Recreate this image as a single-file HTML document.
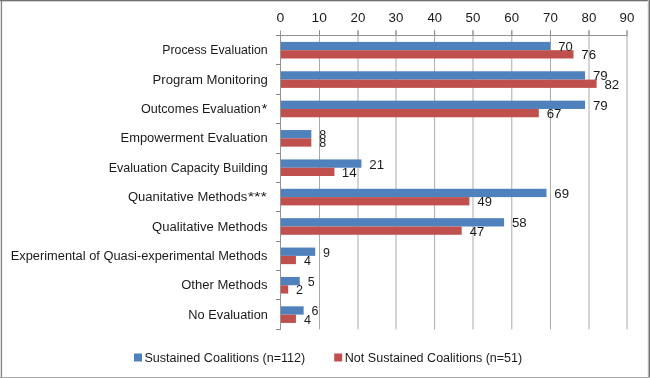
<!DOCTYPE html><html><head><meta charset="utf-8"><style>html,body{margin:0;padding:0;background:#fff;}svg{display:block;will-change:transform;}text{font-family:"Liberation Sans",sans-serif;fill:#1a1a1a;font-size:12.5px;}</style></head><body>
<svg width="650" height="378" viewBox="0 0 650 378">
<rect x="0" y="0" width="650" height="378" fill="#fff"/>
<g shape-rendering="crispEdges">
<rect x="0" y="0" width="1" height="378" fill="#e0e0e0"/>
<rect x="2" y="1" width="1" height="376" fill="#f2f2f2"/>
<rect x="0" y="1" width="650" height="1" fill="#d0d0d0"/>
<rect x="1" y="0" width="1" height="378" fill="#848484"/>
<rect x="0" y="0" width="650" height="1" fill="#727272"/>
<rect x="647" y="1" width="1" height="376" fill="#f0f0f0"/>
<rect x="648" y="0" width="1" height="378" fill="#b5b5b5"/>
<rect x="649" y="0" width="1" height="378" fill="#727272"/>
<rect x="0" y="377" width="650" height="1" fill="#a8a8a8"/>
</g>
<line x1="319.5" y1="30.3" x2="319.5" y2="329.5" stroke="#aaaaaa" stroke-width="1"/>
<line x1="319.5" y1="30.3" x2="319.5" y2="35" stroke="#888888" stroke-width="1"/>
<line x1="358.0" y1="30.3" x2="358.0" y2="329.5" stroke="#aaaaaa" stroke-width="1"/>
<line x1="358.0" y1="30.3" x2="358.0" y2="35" stroke="#888888" stroke-width="1"/>
<line x1="396.0" y1="30.3" x2="396.0" y2="329.5" stroke="#aaaaaa" stroke-width="1"/>
<line x1="396.0" y1="30.3" x2="396.0" y2="35" stroke="#888888" stroke-width="1"/>
<line x1="434.6" y1="30.3" x2="434.6" y2="329.5" stroke="#aaaaaa" stroke-width="1"/>
<line x1="434.6" y1="30.3" x2="434.6" y2="35" stroke="#888888" stroke-width="1"/>
<line x1="473.0" y1="30.3" x2="473.0" y2="329.5" stroke="#aaaaaa" stroke-width="1"/>
<line x1="473.0" y1="30.3" x2="473.0" y2="35" stroke="#888888" stroke-width="1"/>
<line x1="511.8" y1="30.3" x2="511.8" y2="329.5" stroke="#aaaaaa" stroke-width="1"/>
<line x1="511.8" y1="30.3" x2="511.8" y2="35" stroke="#888888" stroke-width="1"/>
<line x1="550.5" y1="30.3" x2="550.5" y2="329.5" stroke="#aaaaaa" stroke-width="1"/>
<line x1="550.5" y1="30.3" x2="550.5" y2="35" stroke="#888888" stroke-width="1"/>
<line x1="589.0" y1="30.3" x2="589.0" y2="329.5" stroke="#aaaaaa" stroke-width="1"/>
<line x1="589.0" y1="30.3" x2="589.0" y2="35" stroke="#888888" stroke-width="1"/>
<line x1="627.0" y1="30.3" x2="627.0" y2="329.5" stroke="#aaaaaa" stroke-width="1"/>
<line x1="627.0" y1="30.3" x2="627.0" y2="35" stroke="#888888" stroke-width="1"/>
<rect x="280.5" y="41.90" width="269.85" height="8.30" fill="#4F81BD"/>
<rect x="280.5" y="50.20" width="292.98" height="8.30" fill="#C0504D"/>
<rect x="280.5" y="71.28" width="304.55" height="8.30" fill="#4F81BD"/>
<rect x="280.5" y="79.58" width="316.11" height="8.30" fill="#C0504D"/>
<rect x="280.5" y="100.66" width="304.55" height="8.30" fill="#4F81BD"/>
<rect x="280.5" y="108.96" width="258.29" height="8.30" fill="#C0504D"/>
<rect x="280.5" y="130.04" width="30.84" height="8.30" fill="#4F81BD"/>
<rect x="280.5" y="138.34" width="30.84" height="8.30" fill="#C0504D"/>
<rect x="280.5" y="159.42" width="80.95" height="8.30" fill="#4F81BD"/>
<rect x="280.5" y="167.72" width="53.97" height="8.30" fill="#C0504D"/>
<rect x="280.5" y="188.80" width="266.00" height="8.30" fill="#4F81BD"/>
<rect x="280.5" y="197.10" width="188.90" height="8.30" fill="#C0504D"/>
<rect x="280.5" y="218.18" width="223.59" height="8.30" fill="#4F81BD"/>
<rect x="280.5" y="226.48" width="181.19" height="8.30" fill="#C0504D"/>
<rect x="280.5" y="247.56" width="34.70" height="8.30" fill="#4F81BD"/>
<rect x="280.5" y="255.86" width="15.42" height="8.30" fill="#C0504D"/>
<rect x="280.5" y="276.94" width="19.27" height="8.30" fill="#4F81BD"/>
<rect x="280.5" y="285.24" width="7.71" height="8.30" fill="#C0504D"/>
<rect x="280.5" y="306.32" width="23.13" height="8.30" fill="#4F81BD"/>
<rect x="280.5" y="314.62" width="15.42" height="8.30" fill="#C0504D"/>
<line x1="276" y1="35.5" x2="627.5" y2="35.5" stroke="#939393" stroke-width="1"/>
<line x1="280.5" y1="30.5" x2="280.5" y2="330" stroke="#939393" stroke-width="1"/>
<line x1="276" y1="35.5" x2="280.5" y2="35.5" stroke="#868686" stroke-width="1"/>
<line x1="276" y1="64.5" x2="280.5" y2="64.5" stroke="#868686" stroke-width="1"/>
<line x1="276" y1="94.5" x2="280.5" y2="94.5" stroke="#868686" stroke-width="1"/>
<line x1="276" y1="123.5" x2="280.5" y2="123.5" stroke="#868686" stroke-width="1"/>
<line x1="276" y1="153.5" x2="280.5" y2="153.5" stroke="#868686" stroke-width="1"/>
<line x1="276" y1="182.5" x2="280.5" y2="182.5" stroke="#868686" stroke-width="1"/>
<line x1="276" y1="211.5" x2="280.5" y2="211.5" stroke="#868686" stroke-width="1"/>
<line x1="276" y1="241.5" x2="280.5" y2="241.5" stroke="#868686" stroke-width="1"/>
<line x1="276" y1="270.5" x2="280.5" y2="270.5" stroke="#868686" stroke-width="1"/>
<line x1="276" y1="299.5" x2="280.5" y2="299.5" stroke="#868686" stroke-width="1"/>
<line x1="276" y1="329.5" x2="280.5" y2="329.5" stroke="#868686" stroke-width="1"/>
<text x="276.59" y="21.60" textLength="7.76" lengthAdjust="spacingAndGlyphs">0</text>
<text x="311.50" y="21.60" textLength="15.35" lengthAdjust="spacingAndGlyphs">10</text>
<text x="350.57" y="21.60" textLength="14.76" lengthAdjust="spacingAndGlyphs">20</text>
<text x="388.57" y="21.60" textLength="14.76" lengthAdjust="spacingAndGlyphs">30</text>
<text x="427.44" y="21.60" textLength="14.48" lengthAdjust="spacingAndGlyphs">40</text>
<text x="465.57" y="21.60" textLength="14.76" lengthAdjust="spacingAndGlyphs">50</text>
<text x="504.37" y="21.60" textLength="14.76" lengthAdjust="spacingAndGlyphs">60</text>
<text x="543.07" y="21.60" textLength="14.76" lengthAdjust="spacingAndGlyphs">70</text>
<text x="581.57" y="21.60" textLength="14.76" lengthAdjust="spacingAndGlyphs">80</text>
<text x="619.57" y="21.60" textLength="14.76" lengthAdjust="spacingAndGlyphs">90</text>
<text x="162.21" y="53.80" textLength="105.54" lengthAdjust="spacingAndGlyphs">Process Evaluation</text>
<text x="152.55" y="83.68" textLength="115.25" lengthAdjust="spacingAndGlyphs">Program Monitoring</text>
<text x="141.00" y="113.06" textLength="119.82" lengthAdjust="spacingAndGlyphs">Outcomes Evaluation</text>
<text x="261.50" y="113.06" textLength="5.85" lengthAdjust="spacingAndGlyphs">*</text>
<text x="120.57" y="142.44" textLength="147.14" lengthAdjust="spacingAndGlyphs">Empowerment Evaluation</text>
<text x="108.70" y="171.82" textLength="158.99" lengthAdjust="spacingAndGlyphs">Evaluation Capacity Building</text>
<text x="127.98" y="201.20" textLength="119.34" lengthAdjust="spacingAndGlyphs">Quanitative Methods</text>
<text x="247.67" y="201.20" textLength="19.39" lengthAdjust="spacingAndGlyphs">***</text>
<text x="152.08" y="230.58" textLength="115.43" lengthAdjust="spacingAndGlyphs">Qualitative Methods</text>
<text x="10.77" y="259.96" textLength="256.61" lengthAdjust="spacingAndGlyphs">Experimental of Quasi-experimental Methods</text>
<text x="181.18" y="289.34" textLength="86.28" lengthAdjust="spacingAndGlyphs">Other Methods</text>
<text x="188.38" y="318.72" textLength="79.47" lengthAdjust="spacingAndGlyphs">No Evaluation</text>
<text x="558.23" y="51.05" textLength="14.44" lengthAdjust="spacingAndGlyphs">70</text>
<text x="581.35" y="59.35" textLength="14.72" lengthAdjust="spacingAndGlyphs">76</text>
<text x="592.92" y="80.43" textLength="14.72" lengthAdjust="spacingAndGlyphs">79</text>
<text x="604.48" y="88.73" textLength="14.72" lengthAdjust="spacingAndGlyphs">82</text>
<text x="592.92" y="109.81" textLength="14.72" lengthAdjust="spacingAndGlyphs">79</text>
<text x="546.66" y="118.11" textLength="14.72" lengthAdjust="spacingAndGlyphs">67</text>
<text x="319.24" y="139.19">8</text>
<text x="319.24" y="147.49">8</text>
<text x="369.33" y="168.57" textLength="14.72" lengthAdjust="spacingAndGlyphs">21</text>
<text x="341.79" y="176.87" textLength="15.02" lengthAdjust="spacingAndGlyphs">14</text>
<text x="554.37" y="197.95" textLength="14.72" lengthAdjust="spacingAndGlyphs">69</text>
<text x="477.54" y="206.25" textLength="14.44" lengthAdjust="spacingAndGlyphs">49</text>
<text x="511.96" y="227.33" textLength="14.72" lengthAdjust="spacingAndGlyphs">58</text>
<text x="469.83" y="235.63" textLength="14.44" lengthAdjust="spacingAndGlyphs">47</text>
<text x="323.09" y="256.71">9</text>
<text x="304.07" y="265.01">4</text>
<text x="307.67" y="286.09">5</text>
<text x="296.11" y="294.39">2</text>
<text x="311.53" y="315.47">6</text>
<text x="304.07" y="323.77">4</text>
<rect x="134" y="353.5" width="8" height="8" fill="#4F81BD"/>
<text x="144.40" y="361.50" textLength="160.89" lengthAdjust="spacingAndGlyphs">Sustained Coalitions (n=112)</text>
<rect x="334.2" y="353.5" width="8" height="8" fill="#C0504D"/>
<text x="344.80" y="361.50" textLength="177.45" lengthAdjust="spacingAndGlyphs">Not Sustained Coalitions (n=51)</text>
</svg></body></html>
